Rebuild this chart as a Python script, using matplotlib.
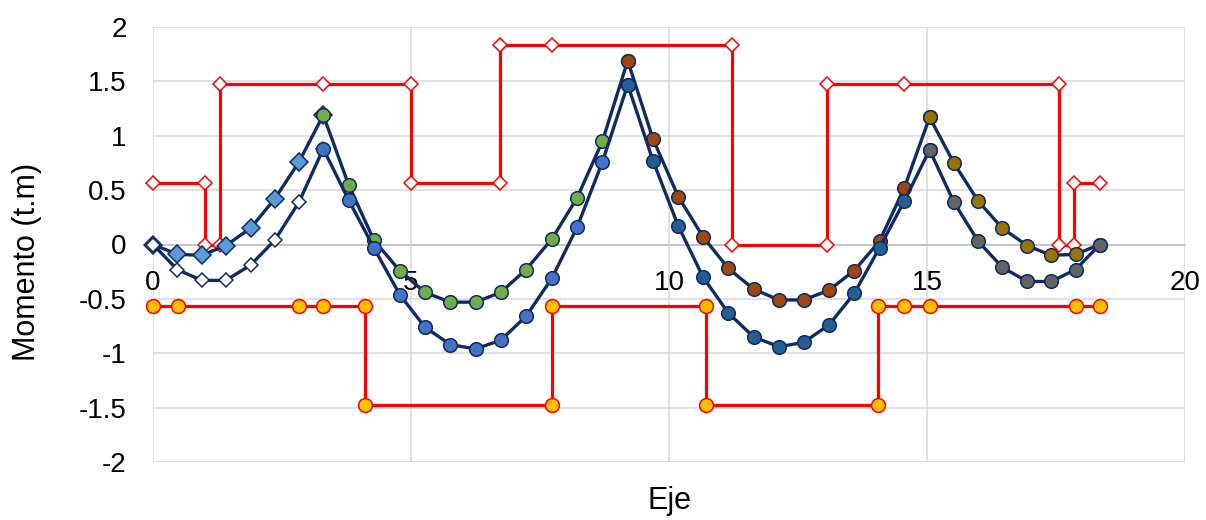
import matplotlib.pyplot as plt

plt.rcParams['font.family'] = ['Liberation Sans', 'DejaVu Sans']

# tramos de la viga (abscisas)
x_t1 = [0, 0.47, 0.94, 1.41, 1.89, 2.36, 2.83, 3.30]
m1_sup = [0, -0.09, -0.10, -0.01, 0.15, 0.42, 0.76, 1.19]
m1_inf = [0, -0.23, -0.33, -0.33, -0.19, 0.04, 0.39, 0.88]

x_t2 = [3.30, 3.79, 4.28, 4.78, 5.27, 5.76, 6.25, 6.74, 7.23, 7.73, 8.22, 8.71, 9.20]
m2_sup = [1.19, 0.55, 0.04, -0.24, -0.44, -0.53, -0.53, -0.44, -0.23, 0.05, 0.43, 0.95, 1.69]
m2_inf = [0.88, 0.41, -0.03, -0.46, -0.76, -0.92, -0.96, -0.88, -0.66, -0.31, 0.16, 0.76, 1.47]

x_t3 = [9.20, 9.69, 10.18, 10.66, 11.15, 11.64, 12.13, 12.61, 13.10, 13.59, 14.08, 14.56, 15.05]
m3_sup = [1.69, 0.97, 0.44, 0.07, -0.22, -0.41, -0.51, -0.51, -0.42, -0.24, 0.03, 0.52, 1.17]
m3_inf = [1.47, 0.77, 0.17, -0.30, -0.63, -0.85, -0.94, -0.90, -0.74, -0.45, -0.03, 0.40, 0.87]

x_t4 = [15.05, 15.52, 15.99, 16.46, 16.94, 17.41, 17.88, 18.35]
m4_sup = [1.17, 0.75, 0.40, 0.15, -0.01, -0.10, -0.09, 0]
m4_inf = [0.87, 0.39, 0.03, -0.21, -0.34, -0.34, -0.23, 0]

# momentos resistentes (escalonados)
x_res_pos = [0, 1.01, 1.01, 1.30, 1.30, 3.30, 5.00, 5.00, 6.73, 6.73, 7.73, 11.22, 11.22,
             13.06, 13.06, 14.56, 17.56, 17.56, 17.85, 17.85, 18.35]
m_res_pos = [0.57, 0.57, 0, 0, 1.48, 1.48, 1.48, 0.57, 0.57, 1.83, 1.83, 1.83, 0,
             0, 1.48, 1.48, 1.48, 0, 0, 0.57, 0.57]
x_res_neg = [0, 0.48, 2.82, 3.30, 4.11, 4.11, 7.73, 7.73, 10.72, 10.72, 14.05, 14.05,
             14.56, 15.05, 17.88, 18.35]
m_res_neg = [-0.57, -0.57, -0.57, -0.57, -0.57, -1.48, -1.48, -0.57, -0.57, -1.48, -1.48, -0.57,
             -0.57, -0.57, -0.57, -0.57]

y_ticks = [-2, -1.5, -1, -0.5, 0, 0.5, 1, 1.5, 2]
y_labels = ['-2', '-1.5', '-1', '-0.5', '0', '0.5', '1', '1.5', '2']
x_ticks = [0, 5, 10, 15, 20]

navy = '#102A63'
W, H = 1206, 520
fig = plt.figure(figsize=(W / 100, H / 100), dpi=100)
ax = fig.add_axes([153 / W, 1 - 462 / H, (1185 - 153) / W, (462 - 27) / H])

# acero
ax.plot(x_res_pos, m_res_pos, color='#FF0000', lw=2.3, marker='D', ms=7.5,
        mfc='white', mec='#FF0000', mew=1.1, clip_on=False, zorder=3)
ax.plot(x_res_neg, m_res_neg, color='#FF0000', lw=2.3, marker='o', ms=10,
        mfc='#FFC000', mec='#FF0000', mew=1.1, clip_on=False, zorder=3)

# tramo 1
ax.plot(x_t1, m1_sup, color=navy, lw=2.4, marker='D', ms=9.5, mfc='#5B9BD5',
        mec=navy, mew=1.1, clip_on=False, zorder=4)
ax.plot(x_t1, m1_inf, color=navy, lw=2.4, marker='D', ms=7.5, mfc='white',
        mec=navy, mew=1.1, clip_on=False, zorder=4)

tramos = [(x_t2, m2_sup, '#70AD47', m2_inf, '#4472C4'),
          (x_t3, m3_sup, '#9E480E', m3_inf, '#255E91'),
          (x_t4, m4_sup, '#997300', m4_inf, '#636363')]
z = 5
for xs, sup, c_sup, inf, c_inf in tramos:
    ax.plot(xs, sup, color=navy, lw=2.4, marker='o', ms=9.8, mfc=c_sup,
            mec=navy, mew=1.1, clip_on=False, zorder=z)
    ax.plot(xs, inf, color=navy, lw=2.4, marker='o', ms=9.8, mfc=c_inf,
            mec=navy, mew=1.1, clip_on=False, zorder=z)
    z += 1

ax.set_xlim(0, 20)
ax.set_ylim(-2, 2)
ax.set_xticks(x_ticks)
ax.set_xticklabels([str(t) for t in x_ticks])
ax.set_yticks(y_ticks)
ax.set_yticklabels(y_labels)
ax.grid(True, color='#D9D9D9', lw=1.1)
ax.set_axisbelow(True)
for s in ['top', 'right', 'left']:
    ax.spines[s].set_visible(False)
ax.spines['bottom'].set_position(('data', 0))
ax.spines['bottom'].set_color('#BFBFBF')
ax.spines['bottom'].set_linewidth(1.1)
ax.spines['bottom'].set_zorder(1)
ax.tick_params(axis='x', length=0, pad=18, labelsize=20, colors='black')
ax.tick_params(axis='y', length=0, pad=19, labelsize=20, colors='black')

fig.text(27.5 / W, 1 - 262 / H, 'Momento (t.m)', rotation=90, ha='center',
         va='center', fontsize=22)
fig.text(669 / W, 1 - 501 / H, 'Eje', ha='center', va='center', fontsize=22)

fig.savefig('out.png', dpi=100)
